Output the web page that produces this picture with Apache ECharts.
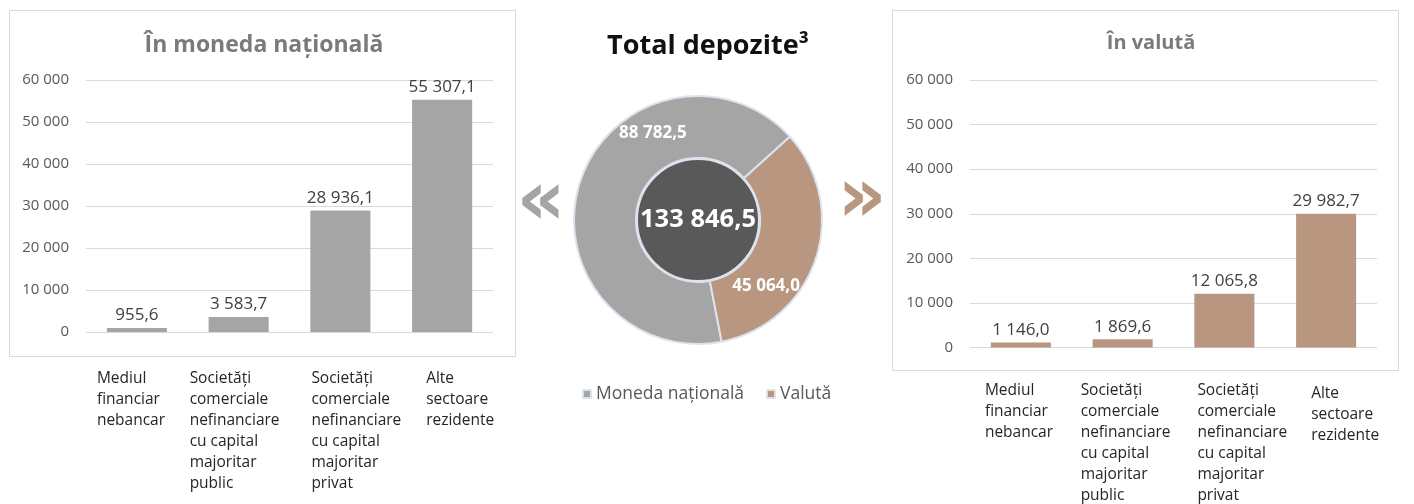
<!DOCTYPE html>
<html><head><meta charset="utf-8">
<script src="https://cdn.jsdelivr.net/npm/echarts@6/dist/echarts.min.js"></script>
<style>html,body{margin:0;padding:0;background:#fff}#c{width:1414px;height:504px}</style>
</head><body><div id="c"></div>
<script>
// ---- data ----
const categories = [
  "Mediul\nfinanciar\nnebancar",
  "Societăți\ncomerciale\nnefinanciare\ncu capital\nmajoritar\npublic",
  "Societăți\ncomerciale\nnefinanciare\ncu capital\nmajoritar\nprivat",
  "Alte\nsectoare\nrezidente"
];
const nationalValues = [955.6, 3583.7, 28936.1, 55307.1];
const foreignValues = [1146.0, 1869.6, 12065.8, 29982.7];
const totalNames = ["Moneda națională", "Valută"];
const totalValues = [88782.5, 45064.0];
const titles = ["În moneda națională", "Total depozite³", "În valută"];
const yTicks = [0, 10000, 20000, 30000, 40000, 50000, 60000];

// ---- helpers ----
function fmt(v, d) {
  const s = v.toFixed(d).split('.');
  s[0] = s[0].replace(/\B(?=(\d{3})+(?!\d))/g, ' ');
  return s.join(',');
}
const GRAY = '#a5a5a5', BROWN = '#b8967f', TXT = '#595959';
const FONT = 'Open Sans';

function catRich(widths, pads) {
  const r = {};
  widths.forEach((w, i) => {
    r['c' + i] = {width: w, align: 'left', fontSize: 15.5, lineHeight: 21, color: '#262626', fontFamily: FONT,
      padding: [pads ? pads[i] : 0, 0, 0, 0]};
  });
  return r;
}

const chart = echarts.init(document.getElementById('c'));
const total = totalValues.reduce((a, b) => a + b, 0);

function yAxis(gi) {
  return {
    type: 'value', gridIndex: gi, min: yTicks[0], max: yTicks[yTicks.length - 1],
    interval: yTicks[1] - yTicks[0],
    axisLine: {show: false}, axisTick: {show: false},
    splitLine: {lineStyle: {color: '#d9d9d9', width: 1}},
    axisLabel: {formatter: v => fmt(v, 0), fontSize: 15, color: TXT, fontFamily: FONT, margin: 17}
  };
}
function xAxis(gi, widths, margin, pads) {
  return {
    type: 'category', gridIndex: gi, data: categories,
    axisLine: {show: false}, axisTick: {show: false},
    axisLabel: {
      interval: 0, align: 'center', verticalAlign: 'top', margin: margin,
      formatter: (v, i) => '{c' + i + '|' + v + '}',
      rich: catRich(widths, pads)
    }
  };
}
function barLabel() {
  return {show: true, position: 'top', distance: 4, fontSize: 17, color: '#404040', fontFamily: FONT,
    formatter: p => fmt(p.value, 1)};
}

chart.setOption({
  animation: false,
  title: [
    {text: titles[0], left: 259, top: 29, textAlign: 'center',
      textStyle: {fontSize: 23, fontWeight: 'bold', color: '#7a7a7a', fontFamily: FONT}},
    {text: titles[1], left: 703, top: 28, textAlign: 'center',
      textStyle: {fontSize: 27, fontWeight: 'bold', color: '#111', fontFamily: FONT}},
    {text: titles[2], left: 1146, top: 28, textAlign: 'center',
      textStyle: {fontSize: 20, fontWeight: 'bold', color: '#7a7a7a', fontFamily: FONT}}
  ],
  grid: [
    {left: 86, right: 921, top: 80, bottom: 172},
    {left: 970, right: 37, top: 80, bottom: 156}
  ],
  xAxis: [xAxis(0, [80, 98, 58, 32], 36), xAxis(1, [72, 84, 54, 30], 33, [0, 0, 0, 5])],
  yAxis: [yAxis(0), yAxis(1)],
  legend: {
    data: totalNames, left: 577, top: 380, icon: 'rect', itemWidth: 8, itemHeight: 8, itemGap: 22,
    textStyle: {fontSize: 17.5, color: TXT, fontFamily: FONT}
  },
  graphic: [
    {type: 'rect', shape: {x: 9.5, y: 10.5, width: 506, height: 346}, style: {fill: 'none', stroke: '#d9d9d9', lineWidth: 1}, z: -1},
    {type: 'rect', shape: {x: 892.5, y: 10.5, width: 506, height: 360}, style: {fill: 'none', stroke: '#d9d9d9', lineWidth: 1}, z: -1},
    {type: 'text', x: 541, y: 204, style: {text: '«', fontSize: 76, fontWeight: 'bold', fill: GRAY, fontFamily: 'DejaVu Sans', align: 'center', verticalAlign: 'middle'}},
    {type: 'text', x: 862, y: 201, style: {text: '»', fontSize: 76, fontWeight: 'bold', fill: BROWN, fontFamily: 'DejaVu Sans', align: 'center', verticalAlign: 'middle'}}
  ],
  series: [
    {type: 'bar', xAxisIndex: 0, yAxisIndex: 0, data: nationalValues, barWidth: '59%',
      itemStyle: {color: GRAY}, label: barLabel()},
    {type: 'bar', xAxisIndex: 1, yAxisIndex: 1, data: foreignValues, barWidth: '59%',
      itemStyle: {color: BROWN}, label: barLabel()},
    {type: 'pie', center: [698, 220], radius: [62, 124], startAngle: -79, clockwise: true,
      data: totalNames.map((n, i) => ({name: n, value: totalValues[i]})),
      color: [GRAY, BROWN],
      itemStyle: {borderColor: '#dde3ee', borderWidth: 2},
      label: {show: true, position: 'inside', formatter: p => fmt(p.value, 1),
        fontSize: 17, fontWeight: 'bold', color: '#fff', fontFamily: FONT},
      labelLine: {show: false},
      labelLayout: p => p.dataIndex === 0 ? {dx: 46, dy: -57} : {dx: -23, dy: 36},
      emphasis: {disabled: true}
    },
    {type: 'pie', center: [698, 220], radius: [0, 61], silent: true,
      data: [{name: 'Total', value: total}],
      itemStyle: {color: '#595959', borderColor: '#dde3ee', borderWidth: 2},
      label: {show: true, position: 'center', formatter: () => fmt(total, 1),
        fontSize: 25.5, fontWeight: 'bold', color: '#fff', fontFamily: FONT},
      labelLine: {show: false}, emphasis: {disabled: true}
    }
  ]
});
</script></body></html>
